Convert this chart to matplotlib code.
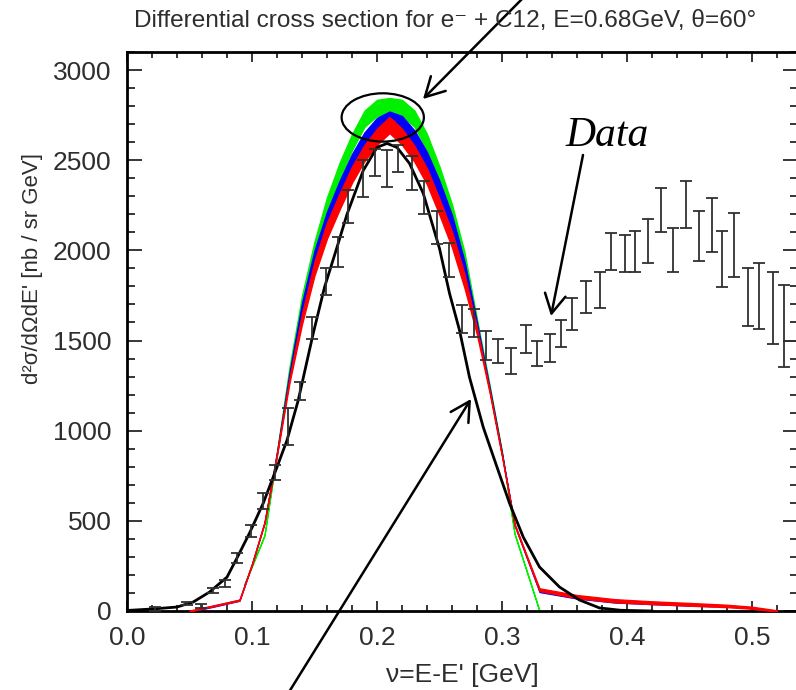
import matplotlib
matplotlib.use("Agg")
import matplotlib.pyplot as plt
from matplotlib.patches import Ellipse
from matplotlib.ticker import MultipleLocator

plt.rcParams['font.family'] = ['Liberation Sans', 'DejaVu Sans']

# ---------------- data ----------------
data_x = [0.022, 0.048, 0.059, 0.069, 0.078, 0.088, 0.099, 0.109, 0.118, 0.129,
          0.138, 0.148, 0.159, 0.169, 0.177, 0.189, 0.198, 0.208, 0.217, 0.228,
          0.238, 0.248, 0.258, 0.268, 0.278, 0.287, 0.297, 0.307, 0.319, 0.328,
          0.338, 0.347, 0.356, 0.367, 0.378, 0.387, 0.398, 0.406, 0.417, 0.427,
          0.437, 0.447, 0.458, 0.468, 0.476, 0.486, 0.497, 0.506, 0.517, 0.526]
data_y = [12, 40, 28, 114, 152, 294, 443, 609, 767, 1022,
          1219, 1571, 1825, 1991, 2242, 2397, 2489, 2453, 2508, 2429,
          2295, 2129, 1945, 1618, 1596, 1472, 1443, 1389, 1508, 1428,
          1458, 1540, 1649, 1741, 1778, 1992, 1981, 1992, 2050, 2222,
          2000, 2252, 2080, 2141, 1950, 2028, 1740, 1745, 1679, 1496]
data_err_lo = [10, 8, 11, 14, 19, 28, 33, 44, 42, 102,
               51, 60, 75, 83, 90, 102, 74, 102, 74, 97,
               92, 92, 94, 78, 77, 81, 68, 72, 77, 70,
               77, 76, 89, 91, 100, 102, 102, 114, 122, 122,
               122, 130, 141, 152, 155, 177, 161, 183, 199, 144]
data_err_hi = [10, 8, 11, 14, 19, 28, 33, 44, 42, 102,
               51, 60, 75, 83, 90, 102, 74, 102, 74, 97,
               92, 92, 94, 78, 77, 81, 68, 72, 77, 70,
               77, 76, 89, 91, 100, 102, 102, 114, 122, 122,
               122, 130, 141, 152, 155, 177, 161, 183, 199, 310]
last_bin_halfwidth = 0.01

# smooth theory curve (black)
theory_x = [0.0, 0.02, 0.04, 0.053, 0.066, 0.08, 0.088, 0.098, 0.109, 0.12,
            0.128, 0.137, 0.149, 0.158, 0.168, 0.176, 0.189, 0.2, 0.208, 0.216,
            0.226, 0.237, 0.25, 0.258, 0.266, 0.274, 0.285, 0.296, 0.306, 0.317,
            0.33, 0.346, 0.362, 0.378, 0.395, 0.42]
theory_y = [3, 11, 22, 50, 105, 188, 294, 432, 598, 798,
            947, 1169, 1540, 1795, 2017, 2200, 2443, 2571, 2593, 2571,
            2482, 2316, 2010, 1762, 1557, 1296, 1019, 798, 598, 410,
            244, 133, 61, 17, 4, 0]

# model bands: centre values and half widths
red_x = [0.05, 0.06, 0.07, 0.08, 0.09, 0.10, 0.11, 0.12, 0.13, 0.14, 0.15, 0.16,
         0.17, 0.18, 0.19, 0.20, 0.21, 0.22, 0.23, 0.24, 0.25, 0.26, 0.27, 0.28,
         0.29, 0.30, 0.31, 0.33, 0.36, 0.39, 0.42, 0.45, 0.48, 0.50, 0.52]
red_y = [0, 15, 30, 45, 60, 260, 490, 870, 1280, 1620, 1900, 2110,
         2270, 2420, 2540, 2630, 2695, 2630, 2535, 2410, 2240, 2060, 1830, 1550,
         1220, 860, 480, 118, 80, 57, 46, 37, 28, 18, 0]
red_err = [3, 3, 3, 3, 3, 3, 4, 8, 15, 30, 40, 45,
           45, 45, 45, 45, 45, 45, 45, 45, 45, 45, 40, 20,
           8, 5, 4, 8, 9, 9, 8, 8, 7, 6, 4]

blue_x = [0.058, 0.07, 0.08, 0.09, 0.10, 0.11, 0.12, 0.13, 0.14, 0.15, 0.16,
          0.17, 0.18, 0.19, 0.20, 0.21, 0.22, 0.23, 0.24, 0.25, 0.26, 0.27, 0.28,
          0.29, 0.30, 0.31, 0.33, 0.36, 0.39, 0.42, 0.45, 0.47]
blue_y = [10, 28, 44, 60, 260, 490, 875, 1310, 1680, 1960, 2170,
          2340, 2490, 2610, 2690, 2725, 2700, 2620, 2500, 2340, 2150, 1900, 1580,
          1235, 870, 480, 110, 74, 52, 43, 35, 30]
blue_err = [3, 3, 3, 3, 3, 3, 8, 15, 30, 40, 45,
            45, 45, 45, 45, 45, 45, 45, 45, 45, 45, 40, 20,
            8, 5, 4, 5, 5, 5, 5, 5, 4]

green_x = [0.094, 0.10, 0.11, 0.12, 0.13, 0.14, 0.15, 0.16, 0.17, 0.18, 0.19,
           0.20, 0.21, 0.22, 0.23, 0.24, 0.25, 0.26, 0.27, 0.28, 0.29, 0.30,
           0.31, 0.33]
green_y = [150, 250, 420, 880, 1340, 1720, 2010, 2250, 2440, 2600, 2730,
           2790, 2800, 2790, 2730, 2600, 2420, 2210, 1950, 1600, 1250, 880,
           430, 0]
green_err = [3, 3, 3, 8, 15, 30, 40, 45, 45, 45, 45,
             45, 45, 45, 45, 45, 45, 45, 40, 20, 8, 5,
             3, 3]

x_ticks = [0.0, 0.1, 0.2, 0.3, 0.4, 0.5]
x_tick_labels = ['0.0', '0.1', '0.2', '0.3', '0.4', '0.5']
y_ticks = [0, 500, 1000, 1500, 2000, 2500, 3000]

title_text = "Differential cross section for e\u207b + C12, E=0.68GeV, \u03b8=60\u00b0"
xlabel_text = "\u03bd=E-E' [GeV]"
ylabel_text = "d\u00b2\u03c3/d\u03a9dE' [nb / sr GeV]"

# ---------------- figure ----------------
W, H = 796, 690
fig = plt.figure(figsize=(W / 100, H / 100), dpi=100)
ax = fig.add_axes([127 / W, 1 - 611 / H, (798 - 127) / W, (611 - 52) / H])
ax.set_xlim(0, 0.5368)
ax.set_ylim(0, 3100)

txt_color = '#2e2e2e'

def band(xs, ys, es, color, z):
    lo = [y - e for y, e in zip(ys, es)]
    hi = [y + e for y, e in zip(ys, es)]
    ax.fill_between(xs, lo, hi, color=color, linewidth=0.9, edgecolor=color, zorder=z)

band(green_x, green_y, green_err, '#00f000', 2)
band(blue_x, blue_y, blue_err, '#0000ff', 3)
band(red_x, red_y, red_err, '#ff0000', 4)

ax.plot(theory_x, theory_y, color='black', lw=2.0, zorder=5, solid_joinstyle='round')

ax.errorbar(data_x, data_y, yerr=[data_err_lo, data_err_hi], fmt='none',
            ecolor='#303030', elinewidth=1.3, capsize=4.5, capthick=1.3, zorder=6)
ax.hlines(data_y[-1], data_x[-1], data_x[-1] + last_bin_halfwidth,
          color='#303030', lw=1.3, zorder=6, clip_on=True)

# ticks & spines
ax.set_xticks(x_ticks)
ax.set_xticklabels(x_tick_labels)
ax.set_yticks(y_ticks)
ax.xaxis.set_minor_locator(MultipleLocator(0.02))
ax.yaxis.set_minor_locator(MultipleLocator(100))
ax.tick_params(axis='both', which='both', direction='in', top=True, right=True,
               colors='black', labelcolor=txt_color, labelsize=19, width=1.1)
ax.tick_params(axis='x', which='major', length=7.5, pad=11)
ax.tick_params(axis='x', which='minor', length=4)
ax.tick_params(axis='y', which='major', length=11, pad=11)
ax.tick_params(axis='y', which='minor', length=5.5)
for s in ax.spines.values():
    s.set_linewidth(2.0)

fig.text(0.5 * (127 + 797) / W, 1 - 682 / H, xlabel_text, ha='center', va='baseline',
         fontsize=19, color=txt_color)
fig.text(33 / W, 1 - 268 / H, ylabel_text, ha='center', va='center', rotation=90,
         fontsize=16, color=txt_color)
fig.text(134 / W, 1 - 27 / H, title_text, ha='left', va='baseline',
         fontsize=17.6, color=txt_color)

# ellipse around peak
ax.add_patch(Ellipse((0.2046, 2737), 0.0658, 268, fill=False, lw=1.6,
                     edgecolor='black', zorder=8, clip_on=False))

# arrows
def farrow(tip, start):
    ax.annotate('', xy=(tip[0] / W, 1 - tip[1] / H), xytext=(start[0] / W, 1 - start[1] / H),
                xycoords='figure fraction', textcoords='figure fraction',
                arrowprops=dict(arrowstyle='->,head_length=0.55,head_width=0.3',
                                lw=1.8, color='black', mutation_scale=25,
                                shrinkA=0, shrinkB=0),
                annotation_clip=False, zorder=9)

farrow((423, 99), (523, -2))
farrow((551, 316), (583, 155))
farrow((471, 399), (289, 692))

fig.text(565 / W, 1 - 146 / H, 'Data', fontsize=30, style='italic',
         family='Liberation Serif', color='black', ha='left', va='baseline')

fig.savefig('out.png', dpi=100)
